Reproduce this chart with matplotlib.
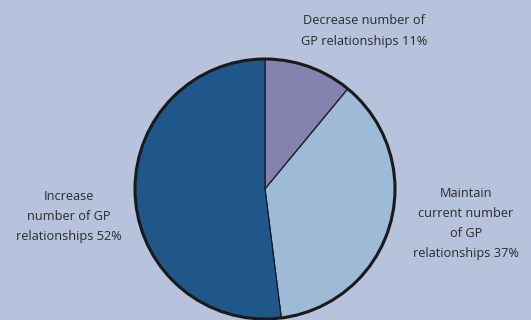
import matplotlib
matplotlib.use("Agg")
import matplotlib.pyplot as plt
from matplotlib.patches import Circle

# Survey responses about GP relationships (percent)
labels = [
    "Decrease number of\nGP relationships 11%",
    "Maintain\ncurrent number\nof GP\nrelationships 37%",
    "Increase\nnumber of GP\nrelationships 52%",
]
values = [11, 37, 52]
colors = ["#8682b0", "#9dbad6", "#1f578b"]
background = "#b7c2dc"

W, H = 531, 320
fig = plt.figure(figsize=(W / 100, H / 100), dpi=100, facecolor=background)
ax = fig.add_axes([0, 0, 1, 1])
ax.set_facecolor(background)

cx, cy, r = 265, H - 189, 130
ax.pie(values, colors=colors, startangle=90, counterclock=False,
       center=(cx, cy), radius=r, frame=True,
       wedgeprops=dict(edgecolor="#1a1a1a", linewidth=0.9))
ax.add_patch(Circle((cx, cy), r, fill=False, edgecolor="#1a1a1a", linewidth=2.2))
ax.set_xlim(0, W)
ax.set_ylim(0, H)
ax.set_aspect("equal")
ax.axis("off")

# Label positions (pixel coordinates, y measured from top)
label_pos = [(364, 31), (466, 223.5), (69, 216.5)]
for text, (x, y) in zip(labels, label_pos):
    ax.text(x, H - y, text, ha="center", va="center", multialignment="center",
            fontsize=9.2, family="Open Sans",
            color="#2b2b2b", linespacing=1.7)

fig.savefig("out.png", dpi=100, facecolor=background)
